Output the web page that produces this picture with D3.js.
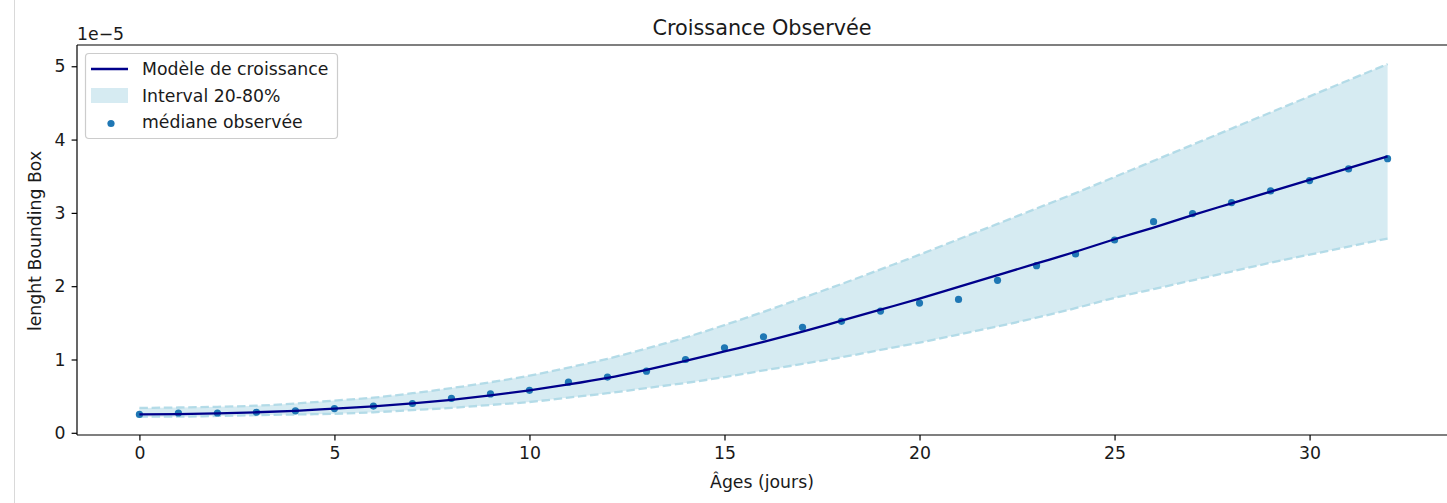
<!DOCTYPE html>
<html>
<head>
<meta charset="utf-8">
<script src="https://cdn.jsdelivr.net/npm/d3@7"></script>
<style>
  html, body { margin: 0; padding: 0; background: #ffffff; }
  svg { display: block; font-family: "DejaVu Sans", sans-serif; }
</style>
</head>
<body>
<svg id="chart" width="1447" height="503"></svg>
<script>
// ---- data (values in units of 1e-5) ----
const ages = [0,1,2,3,4,5,6,7,8,9,10,11,12,13,14,15,16,17,18,19,20,21,22,23,24,25,26,27,28,29,30,31,32];
const medianObserved = [0.25,0.27,0.27,0.28,0.30,0.33,0.365,0.40,0.47,0.53,0.58,0.69,0.76,0.84,1.00,1.16,1.31,1.44,1.52,1.66,1.77,1.82,2.08,2.28,2.44,2.63,2.88,2.99,3.14,3.30,3.44,3.60,3.74];
const modelValues = [0.25,0.255,0.265,0.28,0.30,0.33,0.36,0.40,0.45,0.51,0.58,0.66,0.75,0.86,0.98,1.11,1.24,1.38,1.53,1.68,1.83,1.99,2.15,2.31,2.47,2.64,2.80,2.97,3.13,3.29,3.45,3.61,3.77];
const upperValues = [0.34,0.345,0.355,0.37,0.40,0.44,0.48,0.54,0.61,0.69,0.78,0.89,1.01,1.15,1.30,1.47,1.65,1.84,2.03,2.23,2.43,2.64,2.85,3.06,3.27,3.49,3.71,3.93,4.15,4.37,4.59,4.81,5.03];
const lowerValues = [0.22,0.22,0.23,0.24,0.25,0.26,0.28,0.31,0.34,0.38,0.42,0.48,0.54,0.61,0.68,0.76,0.85,0.94,1.03,1.13,1.23,1.34,1.45,1.57,1.70,1.84,1.96,2.08,2.20,2.32,2.43,2.54,2.65];
const xTicks = [0,5,10,15,20,25,30];
const yTicks = [0,1,2,3,4,5];
const legendLabels = ["Modèle de croissance", "Interval 20-80%", "médiane observée"];
const titleText = "Croissance Observée";
const xLabelText = "Âges (jours)";
const yLabelText = "lenght Bounding Box";
const offsetText = "1e\u22125";

// ---- layout ----
const svg = d3.select("#chart");
const plot = { left: 77, right: 1450, top: 45, bottom: 435 };
const fontPx = 17.3;
const textColor = "#1a1a1a";

const x = d3.scaleLinear().domain([-1.6, 33.6]).range([plot.left, plot.right]);
const y = d3.scaleLinear().domain([-0.03, 5.29]).range([plot.bottom, plot.top]);

// screenshot border line on left
svg.append("line").attr("x1", 14.5).attr("x2", 14.5).attr("y1", 0).attr("y2", 503)
  .attr("stroke", "#d9d9d9").attr("stroke-width", 1);

const rows = ages.map((a, i) => ({ a, med: medianObserved[i], mod: modelValues[i], up: upperValues[i], lo: lowerValues[i] }));

const clipId = "plotclip";
svg.append("defs").append("clipPath").attr("id", clipId)
  .append("rect").attr("x", plot.left).attr("y", plot.top)
  .attr("width", plot.right - plot.left).attr("height", plot.bottom - plot.top);

const g = svg.append("g").attr("clip-path", `url(#${clipId})`);

const curve = d3.curveMonotoneX;

// band
g.append("path").datum(rows)
  .attr("d", d3.area().x(d => x(d.a)).y0(d => y(d.lo)).y1(d => y(d.up)).curve(curve))
  .attr("fill", "#add8e6").attr("fill-opacity", 0.5).attr("stroke", "none");

// dashed edges
["up", "lo"].forEach(k => {
  g.append("path").datum(rows)
    .attr("d", d3.line().x(d => x(d.a)).y(d => y(d[k])).curve(curve))
    .attr("fill", "none").attr("stroke", "#add8e6").attr("stroke-opacity", 0.9)
    .attr("stroke-width", 2.3).attr("stroke-dasharray", "8.5,3.7");
});

// observed medians
g.selectAll("circle.med").data(rows).join("circle")
  .attr("class", "med")
  .attr("cx", d => x(d.a)).attr("cy", d => y(d.med)).attr("r", 3.6)
  .attr("fill", "#1f77b4");

// model line
g.append("path").datum(rows)
  .attr("d", d3.line().x(d => x(d.a)).y(d => y(d.mod)).curve(curve))
  .attr("fill", "none").attr("stroke", "#00008b").attr("stroke-width", 2.3);

// ---- axes ----
const xAxis = d3.axisBottom(x).tickValues(xTicks).tickSize(5.4).tickPadding(6).tickFormat(d3.format("d"));
const gx = svg.append("g").attr("transform", `translate(0,${plot.bottom})`).call(xAxis);
gx.select(".domain").remove();
gx.selectAll("line").attr("stroke", "#000").attr("stroke-width", 1.2);
gx.selectAll("text").attr("font-size", fontPx).attr("fill", textColor).attr("font-family", "DejaVu Sans");

const yAxis = d3.axisLeft(y).tickValues(yTicks).tickSize(5.4).tickPadding(6).tickFormat(d3.format("d"));
const gy = svg.append("g").attr("transform", `translate(${plot.left},0)`).call(yAxis);
gy.select(".domain").remove();
gy.selectAll("line").attr("stroke", "#000").attr("stroke-width", 1.2);
gy.selectAll("text").attr("font-size", fontPx).attr("fill", textColor).attr("font-family", "DejaVu Sans");

// spines
const sp = svg.append("g").attr("stroke", "#000").attr("stroke-width", 1.2).attr("fill", "none");
sp.append("line").attr("x1", plot.left).attr("x2", plot.right).attr("y1", plot.bottom).attr("y2", plot.bottom);
sp.append("line").attr("x1", plot.left).attr("x2", plot.right).attr("y1", plot.top).attr("y2", plot.top);
sp.append("line").attr("x1", plot.left).attr("x2", plot.left).attr("y1", plot.top).attr("y2", plot.bottom);
sp.append("line").attr("x1", plot.right).attr("x2", plot.right).attr("y1", plot.top).attr("y2", plot.bottom);

// offset text
svg.append("text").attr("x", 77).attr("y", 40).attr("font-size", fontPx).attr("fill", textColor).text(offsetText);

// title
svg.append("text").attr("x", 762).attr("y", 35)
  .attr("text-anchor", "middle").attr("font-size", 20.8).attr("fill", textColor).text(titleText);

// axis labels
svg.append("text").attr("x", 762).attr("y", 488)
  .attr("text-anchor", "middle").attr("font-size", fontPx).attr("fill", textColor).text(xLabelText);
svg.append("text").attr("transform", `translate(41,${(plot.top + plot.bottom) / 2 + 1}) rotate(-90)`)
  .attr("text-anchor", "middle").attr("font-size", fontPx).attr("fill", textColor).text(yLabelText);

// ---- legend ----
const lg = svg.append("g");
lg.append("rect").attr("x", 85.5).attr("y", 53.5).attr("width", 252).attr("height", 85)
  .attr("rx", 3.5).attr("fill", "#fff").attr("fill-opacity", 0.8)
  .attr("stroke", "#cccccc").attr("stroke-width", 1.2);
const rowY = [69, 95.5, 122];
lg.append("line").attr("x1", 91).attr("x2", 128).attr("y1", rowY[0]).attr("y2", rowY[0])
  .attr("stroke", "#00008b").attr("stroke-width", 2.3);
lg.append("rect").attr("x", 91).attr("y", rowY[1] - 7.5).attr("width", 37).attr("height", 15)
  .attr("fill", "#add8e6").attr("fill-opacity", 0.5);
lg.append("circle").attr("cx", 111).attr("cy", rowY[2] + 1.5).attr("r", 3.6).attr("fill", "#1f77b4");
legendLabels.forEach((t, i) => {
  lg.append("text").attr("x", 142).attr("y", rowY[i]).attr("dy", "0.36em")
    .attr("font-size", fontPx).attr("fill", textColor).text(t);
});
</script>
</body>
</html>
